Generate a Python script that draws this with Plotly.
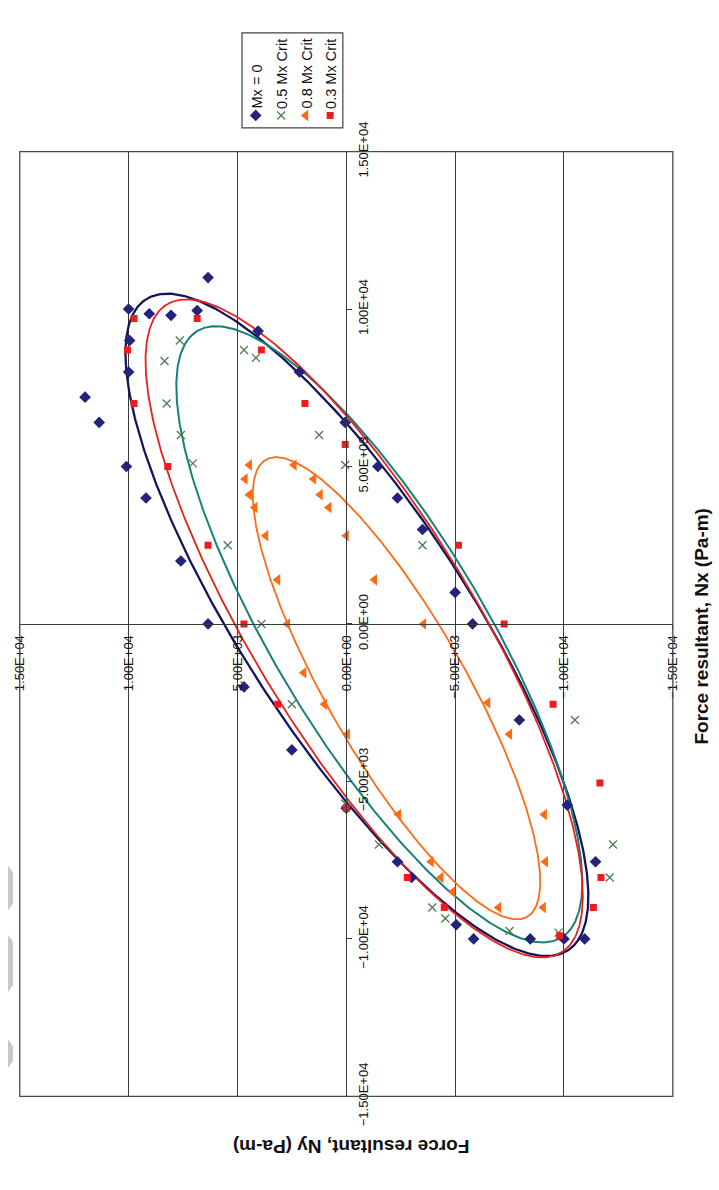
import numpy as np
import plotly.graph_objects as go

W, H = 719, 1190
FONT = "Liberation Sans, Arial, sans-serif"

# ---- measured force resultants (Pa-m) -------------------------------------
mx0_ny = [6350, 10000, 9050, 8050, 6850, 4050, 9950, 10000, 12000, 11350, 2150, 50,
          10100, 9200, 7600, 6350, -1450, -2350, -3500, -5000, -5800, 4700, 2500, 0,
          -7950, -10150, -11450, -2350, -3000, -5050, -5850, -8450, -10000, -10950]
mx0_nx = [11000, 10000, 9850, 9800, 9950, 9300, 9000, 8000, 7200, 6400, 8000, 6400,
          5000, 4000, 2000, 0, 5000, 4000, 3000, 1000, 0, -2000, -4000, -5850,
          -3050, -5750, -7550, -7550, -8050, -9550, -10000, -10000, -10000, -10000]

mx05_ny = [7650, 8350, 4700, 4150, 8250, 7600, 7050, 5450, 1250, 50, 3900, -3500,
           2500, 50, -10500, -1500, -12250, -12100, -3950, -4550, -7500, -9750]
mx05_nx = [9000, 8350, 8700, 8450, 7000, 6000, 5100, 2500, 6000, 5050, 0, 2500,
           -2550, -5700, -3050, -7000, -7000, -8050, -9000, -9350, -9750, -9800]

mx08_ny = [4450, 4650, 4450, 4200, 3700, 3150, 2700, 2400, 1500, 1200, 800, 0, -1300,
           -3550, 1950, 1000, -50, -6500, -7500, -2400, -9100, -9150, -3900, -4350,
           -4900, -7000, -9050]
mx08_nx = [5050, 4600, 4100, 3700, 2800, 1400, 0, 5050, 4600, 4100, 3700, 2800, 1400,
           0, -1550, -2550, -3500, -2500, -3500, -6050, -6050, -7550, -7550, -8050,
           -8500, -9000, -9000]

mx03_ny = [9750, 6850, 10050, 3900, 9750, 1900, 8200, 50, 6350, 4700, -5150, -7250,
           3150, 0, -9500, -11650, -11700, -2800, -4500, -11350, -9800]
mx03_nx = [9700, 9700, 8700, 8700, 7000, 7000, 5000, 5700, 2500, 0, 2500, 0,
           -2550, -5850, -2550, -5050, -8050, -8050, -9000, -9000, -9900]

# ---- points along each fitted failure envelope (Pa-m) ---------------------
env0_ny = [8200, 9550, 10050, 10200, 10200, 10050, 9750, 8800, 7450, 5700, 6850, 4750,
           2350, 0, -1300, -2800, -5000, -6600, 4750, 3250, 0, -2800, -5050, -7300,
           -9300, -10050, -10950, -11400, -11300, -10350, -9150, -7800]
env0_nx = [10250, 10050, 9600, 9000, 8000, 7100, 6300, 4900, 2900, 0, 10100, 9400,
           8100, 6400, 5400, 4200, 1900, 0, -1150, -2650, -5800, -7700, -8900, -10000,
           -10600, -10550, -10200, -9100, -7900, -5900, -4050, -2350]

env05_ny = [6400, 7300, 7850, 7950, 7750, 7150, 6100, 5050, 4450, 5050, 3250, 1450, 0,
            -1300, -2800, -5000, -6950, 2500, 0, -2800, -5050, -7300, -9000, -10200,
            -10950, -11150, -11000, -10200, -9150, -7800]
env05_nx = [9300, 9000, 8300, 7400, 6300, 5100, 3400, 1400, 0, 9250, 8600, 7600, 6750,
            5700, 4500, 2300, 0, -2400, -4900, -7000, -8500, -9500, -10100, -10000,
            -9500, -8400, -7300, -5500, -4050, -2450]

env08_ny = [3250, 4000, 4300, 4300, 4000, 3400, 2650, 2200, 1150, 0, -1300, -2800,
            -4200, 1900, 1000, 0, -2400, -3900, -5500, -6850, -7950, -8700, -8850,
            -8750, -8250, -7300, -6100, -5050]
env08_nx = [5400, 5200, 4600, 3900, 3100, 1900, 0, 5100, 4500, 4000, 2900, 1400, 0,
            -1550, -2550, -3550, -6050, -7500, -8500, -9100, -9350, -8900, -7900,
            -6900, -5500, -4050, -2350, -1050]

env03_ny = [7550, 8800, 9250, 9350, 9100, 8500, 7450, 6250, 5200, 5950, 4150, 2050, 0,
            -2800, -5000, -6750, 3150, 0, -2800, -5050, -7300, -8850, -10200, -11000,
            -11150, -10850, -10050, -8850, -7650]
env03_nx = [10200, 9750, 8900, 7900, 6900, 5500, 3700, 1900, 0, 10000, 9300, 8150, 6550,
            4300, 2000, 0, -2450, -5750, -7800, -8950, -10000, -10550, -10450, -9700,
            -8900, -7700, -5500, -3650, -2250]

tick_vals = [-15000, -10000, -5000, 0, 5000, 10000, 15000]
tick_text = ["\u22121.50E+04", "\u22121.00E+04", "\u22125.00E+03", "0.00E+00",
             "5.00E+03", "1.00E+04", "1.50E+04"]

series_names = ["Mx = 0", "0.5 Mx Crit", "0.8 Mx Crit", "0.3 Mx Crit"]


def fit_ellipse(ny, nx, n=500):
    """Least-squares conic through the envelope points, returned as a closed outline."""
    s = 1e4
    x = np.asarray(ny, float) / s
    y = np.asarray(nx, float) / s
    D = np.column_stack([x * x, x * y, y * y, x, y])
    a, b, c, d, e = np.linalg.lstsq(D, np.ones_like(x), rcond=None)[0]
    x0, y0 = np.linalg.solve([[2 * a, b], [b, 2 * c]], [-d, -e])
    k = 1 - (a * x0 * x0 + b * x0 * y0 + c * y0 * y0 + d * x0 + e * y0)
    w, V = np.linalg.eigh(np.array([[a, b / 2], [b / 2, c]]))
    ax = np.sqrt(k / w)
    t = np.linspace(0, 2 * np.pi, n)
    pts = V @ np.vstack([ax[0] * np.cos(t), ax[1] * np.sin(t)])
    return (pts[0] + x0) * s, (pts[1] + y0) * s


def px(v):
    return v / W


def py(v):
    return 1 - v / H


x_dom = [px(12), px(679)]
y_dom = [py(1123), py(128)]
x_mid = (x_dom[0] + x_dom[1]) / 2
y_mid = (y_dom[0] + y_dom[1]) / 2

grid = "#3a3a3a"

styles = [
    dict(sym="diamond", size=9, col="#23237a", line="#14145a", lw=2.3),
    dict(sym="x-thin-open", size=8, col="#4d7d52", line="#17807a", lw=2.0),
    dict(sym="triangle-left", size=10, col="#ff6a13", line="#ff6a13", lw=1.8),
    dict(sym="square", size=7, col="#ee1c1c", line="#e8201a", lw=1.8),
]
points = [(mx0_ny, mx0_nx), (mx05_ny, mx05_nx), (mx08_ny, mx08_nx), (mx03_ny, mx03_nx)]
envelopes = [(env0_ny, env0_nx), (env05_ny, env05_nx), (env08_ny, env08_nx), (env03_ny, env03_nx)]


def marker_style(st):
    mk = dict(symbol=st["sym"], size=st["size"], color=st["col"])
    if "open" in st["sym"]:
        mk["line"] = dict(color=st["col"], width=1.3)
    else:
        mk["line"] = dict(width=0)
    return mk


fig = go.Figure()

# envelopes
for (eny, enx), st in zip(envelopes, styles):
    cx, cy = fit_ellipse(eny, enx)
    fig.add_trace(go.Scatter(x=cx, y=cy, mode="lines",
                             line=dict(color=st["line"], width=st["lw"]),
                             hoverinfo="skip", showlegend=False))

# measured points
for (pny, pnx), st, name in zip(points, styles, series_names):
    fig.add_trace(go.Scatter(x=pny, y=pnx, mode="markers", marker=marker_style(st),
                             name=name, showlegend=False))

# legend symbols on a pixel-space overlay
leg_x = [253, 279, 304, 329]
for lx, st in zip(leg_x, styles):
    fig.add_trace(go.Scatter(x=[lx], y=[90], mode="markers", marker=marker_style(st),
                             xaxis="x2", yaxis="y2", hoverinfo="skip", showlegend=False))

annotations = []
for lx, name in zip(leg_x, series_names):
    annotations.append(dict(x=px(lx + 1), y=py(84), xref="paper", yref="paper",
                            text=name, showarrow=False, textangle=-90,
                            xanchor="center", yanchor="bottom", borderpad=0,
                            font=dict(family=FONT, size=14.5, color="#111")))

annotations.append(dict(x=px(708), y=py(628), xref="paper", yref="paper",
                        text="<b>Force resultant, Nx (Pa-m)</b>", showarrow=False,
                        textangle=-90, xanchor="center", yanchor="middle",
                        font=dict(family=FONT, size=19, color="#111")))
annotations.append(dict(x=px(350), y=py(1175), xref="paper", yref="paper",
                        text="<b>Force resultant, Ny (Pa-m)</b>", showarrow=False,
                        textangle=180, xanchor="center", yanchor="middle",
                        font=dict(family=FONT, size=19, color="#111")))

shapes = [
    dict(type="rect", xref="paper", yref="paper", x0=x_dom[0], x1=x_dom[1],
         y0=y_dom[0], y1=y_dom[1], line=dict(color="#4a4a4a", width=1.3), layer="above"),
    dict(type="rect", xref="paper", yref="paper", x0=px(239), x1=px(342),
         y0=py(103), y1=py(3), line=dict(color="#444", width=1.2),
         fillcolor="white", layer="below"),
]
# page-edge tabs on the left margin
for y0, y1 in [(880, 927), (953, 1013), (1063, 1093)]:
    path = (f"M {px(0)},{py(y0)} L {px(5)},{py(y0 + 7)} L {px(5)},{py(y1 - 7)} "
            f"L {px(0)},{py(y1)} Z")
    shapes.append(dict(type="path", xref="paper", yref="paper", path=path,
                       fillcolor="#c9c9c9", line=dict(width=0), layer="below"))

fig.update_layout(
    width=W, height=H,
    margin=dict(l=0, r=0, t=0, b=0, pad=0),
    paper_bgcolor="white", plot_bgcolor="rgba(0,0,0,0)",
    font=dict(family=FONT, size=13, color="#111"),
    showlegend=False,
    xaxis=dict(domain=x_dom, range=[15000, -15000], anchor="free", position=y_mid,
               tickvals=tick_vals, ticktext=tick_text, tickangle=-90,
               tickfont=dict(family=FONT, size=13, color="#111"),
               showgrid=True, gridcolor=grid, gridwidth=1, zeroline=False,
               showline=True, linecolor=grid, linewidth=1,
               ticks="outside", ticklen=5, tickcolor=grid, side="bottom",
               fixedrange=True),
    yaxis=dict(domain=y_dom, range=[-15000, 15000], anchor="free", position=x_mid,
               side="right", tickvals=tick_vals, ticktext=tick_text, tickangle=-90,
               tickfont=dict(family=FONT, size=13, color="#111"),
               showgrid=False, zeroline=False,
               showline=True, linecolor=grid, linewidth=1,
               ticks="outside", ticklen=5, tickcolor=grid, fixedrange=True),
    xaxis2=dict(domain=[0, 1], range=[0, W], anchor="y2", visible=False, fixedrange=True),
    yaxis2=dict(domain=[0, 1], range=[H, 0], anchor="x2", visible=False, fixedrange=True),
    annotations=annotations,
    shapes=shapes,
)

fig.write_html("out.html")
